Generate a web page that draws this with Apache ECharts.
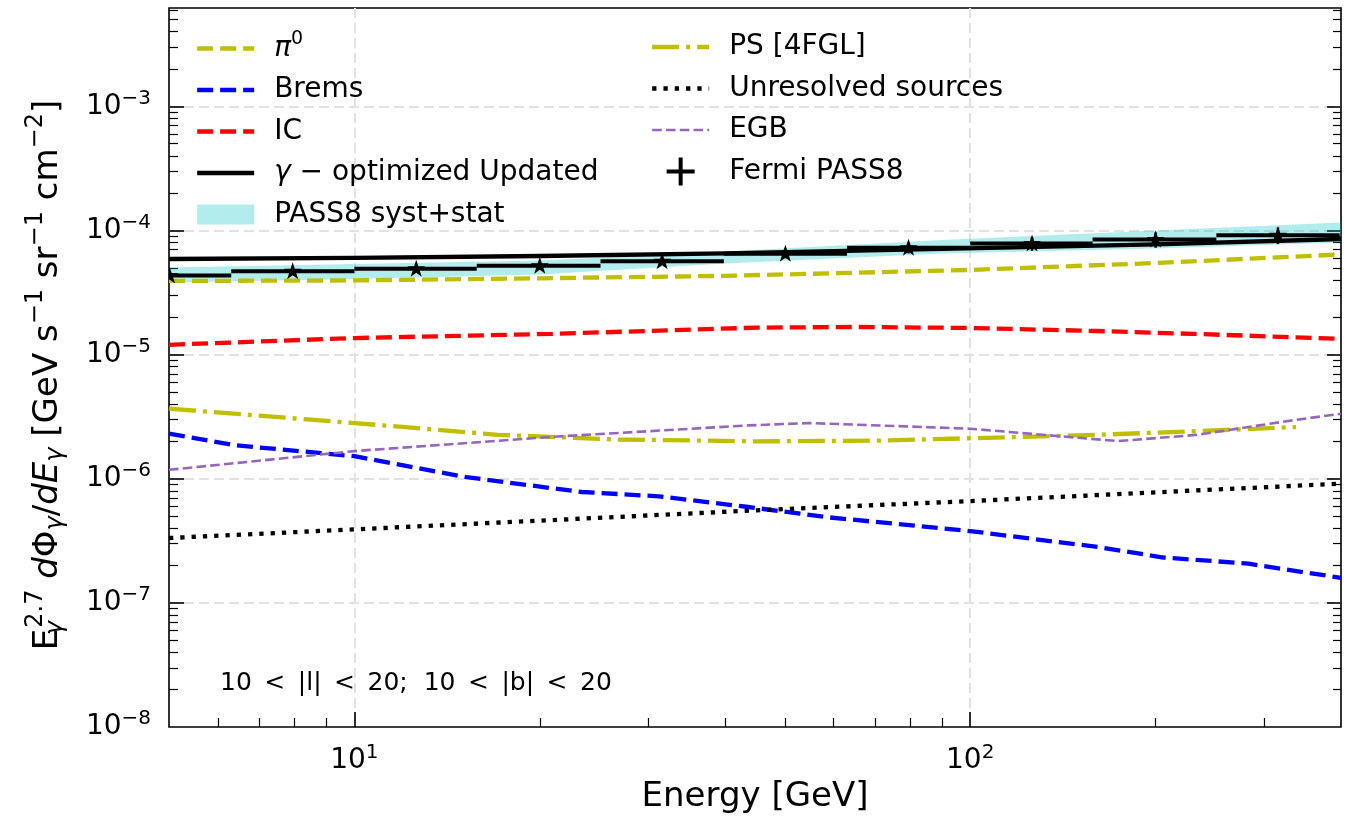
<!DOCTYPE html>
<html>
<head>
<meta charset="utf-8">
<script src="https://cdn.jsdelivr.net/npm/echarts@6/dist/echarts.min.js"></script>
<style>
  html, body { margin: 0; padding: 0; background: #fff; }
  #chart { width: 1359px; height: 820px; }
</style>
</head>
<body>
<div id="chart"></div>
<script>
const FONT = 'DejaVu Sans';

// Spectra: E^2.7 dPhi/dE  [GeV s^-1 sr^-1 cm^-2] versus energy [GeV]
const pi0E = [5, 10, 20, 40, 100, 200, 400];
const pi0Flux = [3.92e-5, 3.96e-5, 4.12e-5, 4.31e-5, 4.81e-5, 5.47e-5, 6.41e-5];

const bremsE = [5, 6.41, 10, 15.2, 23.4, 31.2, 43.6, 58.8, 100, 161, 206, 283, 400];
const bremsFlux = [2.31e-6, 1.86e-6, 1.52e-6, 1.03e-6, 7.82e-7, 7.22e-7, 5.92e-7, 4.89e-7, 3.79e-7, 2.82e-7, 2.32e-7, 2.07e-7, 1.59e-7];

const icE = [5, 10, 21, 45, 65, 100, 160, 230, 400];
const icFlux = [1.20e-5, 1.36e-5, 1.47e-5, 1.65e-5, 1.67e-5, 1.64e-5, 1.55e-5, 1.47e-5, 1.34e-5];

const totalE = [5, 10, 20, 40, 90, 200, 400];
const totalFlux = [5.89e-5, 6.01e-5, 6.23e-5, 6.53e-5, 7.10e-5, 7.72e-5, 8.54e-5];

const bandE = [5, 10, 20, 40, 90, 200, 400];
const bandLow = [3.81e-5, 4.07e-5, 4.42e-5, 5.42e-5, 6.53e-5, 7.16e-5, 8.0e-5];
const bandHigh = [5.04e-5, 5.37e-5, 5.74e-5, 6.78e-5, 8.39e-5, 1.0e-4, 1.16e-4];

const psE = [5, 10, 17.1, 26.8, 45.3, 71.1, 100, 161, 234, 338];
const psFlux = [3.67e-6, 2.81e-6, 2.26e-6, 2.07e-6, 2.00e-6, 2.03e-6, 2.12e-6, 2.26e-6, 2.42e-6, 2.61e-6];

const unresE = [5, 10, 21.4, 45, 100, 200, 400];
const unresFlux = [3.33e-7, 3.91e-7, 4.67e-7, 5.57e-7, 6.61e-7, 7.77e-7, 9.13e-7];

const egbE = [5, 10, 21.4, 43.6, 55, 100, 174, 234, 328, 400];
const egbFlux = [1.18e-6, 1.67e-6, 2.19e-6, 2.69e-6, 2.81e-6, 2.53e-6, 2.01e-6, 2.26e-6, 2.92e-6, 3.34e-6];

// Fermi PASS8 data points: bin centre, bin edges, flux and flux error
const fermiE = [5.01, 7.94, 12.6, 20.0, 31.6, 50.1, 79.4, 126, 200, 316];
const fermiLo = [3.98, 6.31, 10.0, 15.8, 25.1, 39.8, 63.1, 100, 158, 251];
const fermiHi = [6.31, 10.0, 15.8, 25.1, 39.8, 63.1, 100, 158, 251, 398];
const fermiFlux = [4.34e-5, 4.70e-5, 4.92e-5, 5.20e-5, 5.66e-5, 6.49e-5, 7.26e-5, 7.86e-5, 8.46e-5, 9.17e-5];
const fermiErr = [1.3e-6, 1.4e-6, 2.0e-6, 2.6e-6, 3.4e-6, 5.2e-6, 7.3e-6, 1.0e-5, 1.2e-5, 1.4e-5];

// Axis ranges and tick positions
const X_MIN = 5, X_MAX = 400;
const Y_MIN = 1e-8, Y_MAX = 6.2e-3;
const xMajor = [10, 100];
const xMinor = [6, 7, 8, 9, 20, 30, 40, 50, 60, 70, 80, 90, 200, 300];
const yLabels = [1e-8, 1e-7, 1e-6, 1e-5, 1e-4, 1e-3];
const yMajor = [1e-7, 1e-6, 1e-5, 1e-4, 1e-3];
const yMinor = [];
for (let p = -8; p <= -3; p++) {
  for (let m = 2; m <= 9; m++) {
    const v = +(m * Math.pow(10, p)).toPrecision(6);
    if (v < Y_MAX) yMinor.push(v);
  }
}

const BAND_COLOR = 'rgba(0,191,191,0.3)';
const STAR = 'M50,0 L61.2,34.5 L97.6,34.5 L68.2,55.9 L79.4,90.5 L50,69.1 L20.6,90.5 L31.8,55.9 L2.4,34.5 L38.8,34.5 Z';
const PLUS = 'path://M12,0h4v12h12v4h-12v12h-4v-12h-12v-4h12z';

const chart = echarts.init(document.getElementById('chart'), null, { renderer: 'canvas' });

const tickMajor = { color: '#000', width: 1.6 };
const tickMinor = { color: '#000', width: 1.2 };
const gridLine = { color: '#e2e2e2', width: 2, type: [10, 5] };

function powLabel(v) {
  const p = Math.round(Math.log10(v));
  return '{b|10}{e|' + (p < 0 ? '\u2212' + (-p) : p) + '}';
}
const labelRich = {
  b: { fontFamily: FONT, fontSize: 28, color: '#000', lineHeight: 30 },
  e: { fontFamily: FONT, fontSize: 20, color: '#000', height: 14, verticalAlign: 'top' }
};

function logAxis(min, max, extra) {
  return Object.assign({
    type: 'log', logBase: 10, min: min, max: max, silent: true,
    axisLine: { show: false, onZero: false },
    axisTick: { show: false },
    axisLabel: { show: false },
    splitLine: { show: false },
    minorTick: { show: false },
    minorSplitLine: { show: false }
  }, extra);
}

function lineSeries(name, xs, ys, color, width, dash, z) {
  return {
    type: 'line', name: name, z: z || 3,
    data: xs.map((x, i) => [x, ys[i]]),
    symbol: 'none', showSymbol: false, smooth: false, clip: true, silent: true,
    lineStyle: { color: color, width: width, type: dash, cap: 'butt', join: 'round' },
    itemStyle: { color: color },
    emphasis: { disabled: true }
  };
}

function renderBand(params, api) {
  if (params.dataIndex !== 0) return null;
  const pts = [];
  for (let i = 0; i < bandE.length; i++) pts.push(api.coord([bandE[i], bandHigh[i]]));
  for (let i = bandE.length - 1; i >= 0; i--) pts.push(api.coord([bandE[i], bandLow[i]]));
  return { type: 'polygon', shape: { points: pts }, style: { fill: BAND_COLOR } };
}

function renderFermi(params, api) {
  const e = api.value(0), v = api.value(1), lo = api.value(2), hi = api.value(3), er = api.value(4);
  const c = api.coord([e, v]);
  const pL = api.coord([lo, v]);
  const pR = api.coord([hi, v]);
  const pT = api.coord([e, v + er]);
  const pB = api.coord([e, v - er]);
  const cs = params.coordSys;
  const bar = echarts.graphic.clipRectByRect(
    { x: pL[0], y: c[1] - 2, width: pR[0] - pL[0], height: 4 },
    { x: cs.x, y: cs.y, width: cs.width, height: cs.height }
  );
  const children = [];
  if (bar) children.push({ type: 'rect', shape: bar, style: { fill: '#000' } });
  children.push({ type: 'line', shape: { x1: c[0], y1: pT[1], x2: c[0], y2: pB[1] }, style: { stroke: '#000', lineWidth: 2.5 } });
  children.push({ type: 'path', shape: { pathData: STAR, x: c[0] - 9, y: c[1] - 9.5, width: 18, height: 18, layout: 'center' }, style: { fill: '#000' } });
  return { type: 'group', children: children };
}

const legendRich = {
  i: { fontFamily: FONT, fontSize: 28, fontStyle: 'italic', color: '#000', lineHeight: 30 },
  sup: { fontFamily: FONT, fontSize: 19, color: '#000', height: 12, verticalAlign: 'top' }
};
const legendNames = {
  '\u03c00': '{i|\u03c0}{sup|0}',
  '\u03b3 \u2212 optimized Updated': '{i|\u03b3} \u2212 optimized Updated'
};
function legendBase(extra) {
  return Object.assign({
    orient: 'vertical', padding: 0, itemWidth: 57, itemGap: 11.5,
    selectedMode: false,
    itemStyle: { opacity: 0 },
    lineStyle: { width: 'inherit', type: 'inherit', cap: 'butt' },
    textStyle: { fontFamily: FONT, fontSize: 28, color: '#000', lineHeight: 30, padding: [0, 0, 0, 15], rich: legendRich },
    formatter: name => legendNames[name] || name
  }, extra);
}

const option = {
  animation: false,
  backgroundColor: '#fff',
  grid: { left: 169, right: 18, top: 8, bottom: 93, show: true, borderColor: '#000', borderWidth: 1.6, backgroundColor: 'transparent' },
  xAxis: [
    logAxis(X_MIN, X_MAX, {
      position: 'bottom',
      axisTick: { show: true, inside: true, length: 15, customValues: xMajor, lineStyle: tickMajor },
      axisLabel: { show: true, customValues: xMajor, formatter: powLabel, margin: 19, rich: labelRich },
      splitLine: { show: true, lineStyle: gridLine }
    }),
    logAxis(X_MIN, X_MAX, {
      position: 'bottom',
      axisTick: { show: true, inside: true, length: 9, customValues: xMinor, lineStyle: tickMinor }
    })
  ],
  yAxis: [
    logAxis(Y_MIN, Y_MAX, {
      position: 'left',
      axisTick: { show: true, inside: true, length: 15, customValues: yMajor, lineStyle: tickMajor },
      axisLabel: { show: true, customValues: yLabels, formatter: powLabel, margin: 18, rich: labelRich },
      splitLine: { show: true, lineStyle: gridLine }
    }),
    logAxis(Y_MIN, Y_MAX, {
      position: 'left',
      axisTick: { show: true, inside: true, length: 9, customValues: yMinor, lineStyle: tickMinor }
    }),
    logAxis(Y_MIN, Y_MAX, {
      position: 'right',
      axisTick: { show: true, inside: true, length: 14, customValues: yMajor, lineStyle: tickMajor }
    }),
    logAxis(Y_MIN, Y_MAX, {
      position: 'right',
      axisTick: { show: true, inside: true, length: 8, customValues: yMinor, lineStyle: tickMinor }
    })
  ],
  legend: [
    legendBase({
      left: 195, top: 30, itemHeight: 20,
      data: [
        { name: '\u03c00' },
        { name: 'Brems' },
        { name: 'IC' },
        { name: '\u03b3 \u2212 optimized Updated' },
        { name: 'PASS8 syst+stat', icon: 'rect', itemStyle: { opacity: 1 } }
      ]
    }),
    legendBase({
      left: 650, top: 32, itemHeight: 28,
      data: [
        { name: 'PS [4FGL]' },
        { name: 'Unresolved sources' },
        { name: 'EGB' },
        { name: 'Fermi PASS8', icon: PLUS, itemStyle: { opacity: 1 } }
      ]
    })
  ],
  series: [
    {
      type: 'custom', name: 'PASS8 syst+stat', z: 1, silent: true,
      data: bandE.map((e, i) => [e, bandLow[i], bandHigh[i]]),
      encode: { x: 0, y: [1, 2] },
      itemStyle: { color: BAND_COLOR },
      renderItem: renderBand
    },
    lineSeries('\u03c00', pi0E, pi0Flux, '#bfbf00', 4.3, [16, 7]),
    lineSeries('Brems', bremsE, bremsFlux, '#0000ff', 4.3, [16, 7]),
    lineSeries('IC', icE, icFlux, '#ff0000', 4.3, [16, 7]),
    lineSeries('\u03b3 \u2212 optimized Updated', totalE, totalFlux, '#000000', 4.3, 'solid', 4),
    lineSeries('PS [4FGL]', psE, psFlux, '#bfbf00', 4.3, [27, 7, 4, 7]),
    lineSeries('Unresolved sources', unresE, unresFlux, '#000000', 4.3, [4.3, 7]),
    lineSeries('EGB', egbE, egbFlux, '#9467bd', 2.6, [9.6, 4.2]),
    {
      type: 'custom', name: 'Fermi PASS8', z: 5, silent: true, clip: true,
      data: fermiE.map((e, i) => [e, fermiFlux[i], fermiLo[i], fermiHi[i], fermiErr[i]]),
      encode: { x: 0, y: 1 },
      itemStyle: { color: '#000' },
      renderItem: renderFermi
    }
  ],
  graphic: [
    {
      type: 'text', x: 755, y: 797, silent: true,
      style: { text: 'Energy [GeV]', fontFamily: FONT, fontSize: 34, fill: '#000', align: 'center', verticalAlign: 'middle' }
    },
    {
      type: 'text', x: 220, y: 683, silent: true,
      style: { text: '10\u2002<\u2002|l|\u2002<\u200220;  10\u2002<\u2002|b|\u2002<\u200220', fontFamily: FONT, fontSize: 25, fill: '#000', align: 'left', verticalAlign: 'middle' }
    },
    {
      type: 'text', x: 48, y: 375, rotation: Math.PI / 2, silent: true,
      style: {
        text: '{r|E}{sb0|\u03b3}{sp|2.7}{r| }{i|d}{r|\u03a6}{sb|\u03b3}{r|/}{i|dE}{sb|\u03b3}{r| [GeV s}{sp|\u22121}{r| sr}{sp|\u22121}{r| cm}{sp|\u22122}{r|]}',
        align: 'center', verticalAlign: 'middle',
        fontFamily: FONT, fontSize: 34, fill: '#000',
        rich: {
          r: { fontFamily: FONT, fontSize: 34, fill: '#000', lineHeight: 44 },
          i: { fontFamily: FONT, fontSize: 34, fontStyle: 'italic', fill: '#000', lineHeight: 44 },
          sb0: { fontFamily: FONT, fontSize: 24, fontStyle: 'italic', fill: '#000', lineHeight: 44, padding: [16, 0, 0, 0], width: 1 },
          sb: { fontFamily: FONT, fontSize: 24, fontStyle: 'italic', fill: '#000', lineHeight: 44, padding: [16, 0, 0, 0] },
          sp: { fontFamily: FONT, fontSize: 24, fill: '#000', lineHeight: 44, padding: [0, 0, 24, 0] }
        }
      }
    }
  ]
};

chart.setOption(option);
</script>
</body>
</html>
